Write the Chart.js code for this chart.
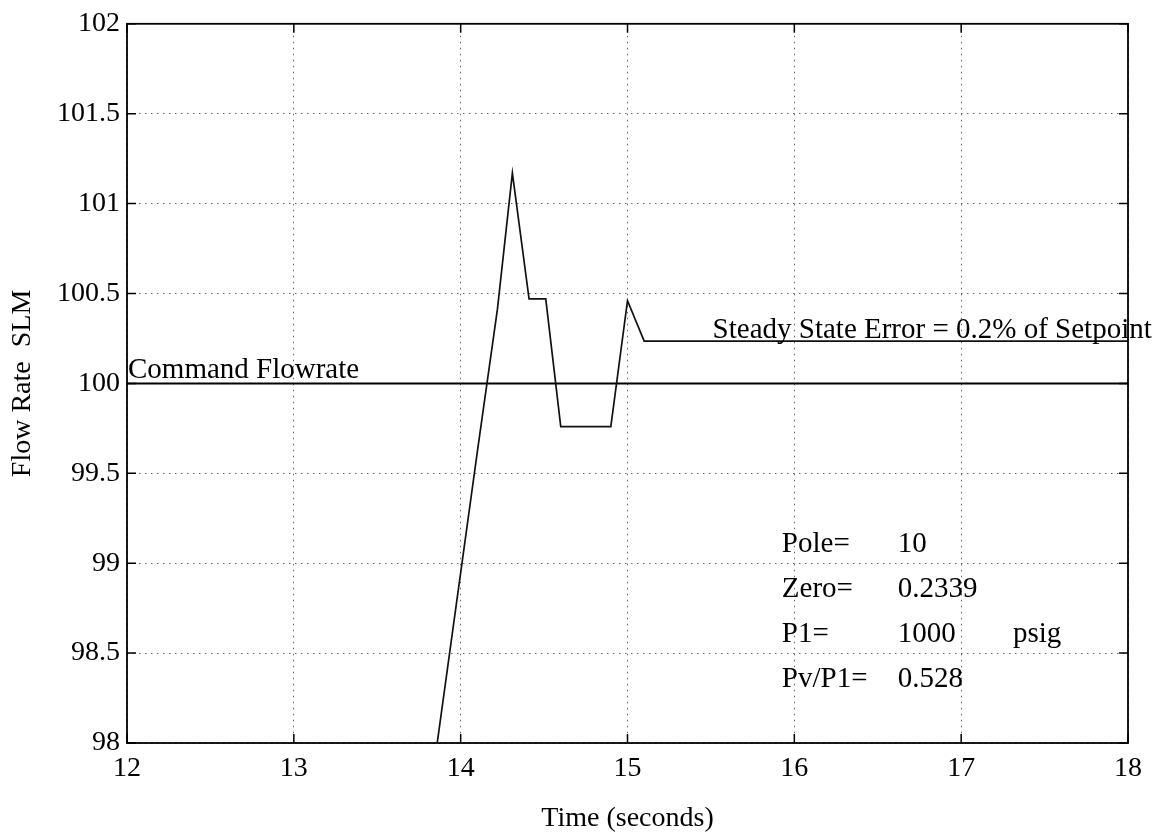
<!DOCTYPE html>
<html>
<head>
<meta charset="utf-8">
<title>Flow Rate step response</title>
<script src="https://cdn.jsdelivr.net/npm/chart.js@4.4.1/dist/chart.umd.min.js"></script>
<style>
  html, body { margin: 0; padding: 0; background: #ffffff; }
  #wrap { width: 1160px; height: 839px; }
</style>
</head>
<body>
<div id="wrap"><canvas id="chart" width="1160" height="839"></canvas></div>
<script>
// Measured flow response (time in seconds, flow in SLM)
const responseTime = [13.80, 14.10, 14.22, 14.31, 14.41, 14.51, 14.60, 14.90, 15.00, 15.10, 18.00];
const responseFlow = [97.60, 99.62, 100.41, 101.17, 100.47, 100.47, 99.76, 99.76, 100.46, 100.235, 100.235];

// Command flowrate setpoint
const commandTime = [12, 18];
const commandFlow = [100, 100];

// Axis tick labels
const xTickValues = [12, 13, 14, 15, 16, 17, 18];
const xTickLabels = ['12', '13', '14', '15', '16', '17', '18'];
const yTickValues = [98, 98.5, 99, 99.5, 100, 100.5, 101, 101.5, 102];
const yTickLabels = ['98', '98.5', '99', '99.5', '100', '100.5', '101', '101.5', '102'];

// Text notes placed in data coordinates
const noteTexts = ['Command Flowrate', 'Steady State Error = 0.2% of Setpoint'];
const noteX = [12, 15.51];
const noteY = [100, 100.235];

// Controller parameter table
const paramNames = ['Pole=', 'Zero=', 'P1=', 'Pv/P1='];
const paramValues = ['10', '0.2339', '1000', '0.528'];
const paramUnits = ['', '', 'psig', ''];
const paramRowY = [99.06, 98.81, 98.56, 98.31];
const paramColX = [15.925, 16.62, 17.31];

const SERIF = "'Liberation Serif', 'DejaVu Serif', serif";

const toPoints = (xs, ys) => xs.map((x, i) => ({ x: x, y: ys[i] }));

// Frame, inward tick marks, and text notes
const framePlugin = {
  id: 'frameAndNotes',
  afterDraw(chart) {
    const { ctx, chartArea: a, scales } = chart;
    const xs = scales.x, ys = scales.y;
    ctx.save();
    ctx.strokeStyle = '#000';
    ctx.lineWidth = 1.8;
    ctx.strokeRect(a.left, a.top, a.right - a.left, a.bottom - a.top);

    const tl = 9;
    ctx.lineWidth = 1.5;
    ctx.beginPath();
    xTickValues.forEach(v => {
      const px = xs.getPixelForValue(v);
      ctx.moveTo(px, a.bottom); ctx.lineTo(px, a.bottom - tl);
      ctx.moveTo(px, a.top); ctx.lineTo(px, a.top + tl);
    });
    yTickValues.forEach(v => {
      const py = ys.getPixelForValue(v);
      ctx.moveTo(a.left, py); ctx.lineTo(a.left + tl, py);
      ctx.moveTo(a.right, py); ctx.lineTo(a.right - tl, py);
    });
    ctx.stroke();

    ctx.fillStyle = '#000';
    ctx.font = '29px ' + SERIF;
    ctx.textAlign = 'left';
    ctx.textBaseline = 'alphabetic';
    ctx.fillText(noteTexts[0], xs.getPixelForValue(noteX[0]) + 1, ys.getPixelForValue(noteY[0]) - 5);
    ctx.fillText(noteTexts[1], xs.getPixelForValue(noteX[1]), ys.getPixelForValue(noteY[1]) - 3);

    paramNames.forEach((name, i) => {
      const py = ys.getPixelForValue(paramRowY[i]);
      ctx.fillText(name, xs.getPixelForValue(paramColX[0]), py);
      ctx.fillText(paramValues[i], xs.getPixelForValue(paramColX[1]), py);
      if (paramUnits[i]) ctx.fillText(paramUnits[i], xs.getPixelForValue(paramColX[2]), py);
    });
    ctx.restore();
  }
};

new Chart(document.getElementById('chart'), {
  type: 'line',
  data: {
    datasets: [
      {
        label: 'Flow',
        data: toPoints(responseTime, responseFlow),
        borderColor: '#111',
        borderWidth: 1.7,
        pointRadius: 0,
        tension: 0,
        fill: false
      },
      {
        label: 'Command',
        data: toPoints(commandTime, commandFlow),
        borderColor: '#000',
        borderWidth: 2,
        pointRadius: 0,
        tension: 0,
        fill: false
      }
    ]
  },
  options: {
    responsive: false,
    animation: false,
    devicePixelRatio: 1,
    layout: { padding: { top: 22, right: 32, left: 0, bottom: 0 } },
    plugins: {
      legend: { display: false },
      tooltip: { enabled: false },
      title: { display: false }
    },
    scales: {
      x: {
        type: 'linear',
        min: 12,
        max: 18,
        afterFit(scale) { scale.height = 96; },
        afterBuildTicks(scale) { scale.ticks = xTickValues.map(v => ({ value: v })); },
        ticks: {
          padding: 9,
          color: '#000',
          font: { family: SERIF, size: 28 },
          maxRotation: 0,
          callback: (v) => xTickLabels[xTickValues.indexOf(v)] ?? ''
        },
        grid: {
          color: 'rgba(0,0,0,0.6)',
          lineWidth: 1,
          drawTicks: false
        },
        border: { display: false, dash: [1.5, 4.5] },
        title: {
          display: true,
          text: 'Time (seconds)',
          color: '#000',
          font: { family: SERIF, size: 28 },
          padding: { top: 0, bottom: 4 }
        }
      },
      y: {
        type: 'linear',
        min: 98,
        max: 102,
        afterFit(scale) { scale.width = 127; },
        afterBuildTicks(scale) { scale.ticks = yTickValues.map(v => ({ value: v })); },
        ticks: {
          padding: 7,
          color: '#000',
          font: { family: SERIF, size: 28 },
          callback: (v) => yTickLabels[yTickValues.indexOf(v)] ?? ''
        },
        grid: {
          color: 'rgba(0,0,0,0.6)',
          lineWidth: 1,
          drawTicks: false
        },
        border: { display: false, dash: [1.5, 4.5] },
        title: {
          display: true,
          text: 'Flow Rate  SLM',
          color: '#000',
          font: { family: SERIF, size: 28 },
          padding: { top: 6, bottom: 0 }
        }
      }
    }
  },
  plugins: [framePlugin]
});
</script>
</body>
</html>
